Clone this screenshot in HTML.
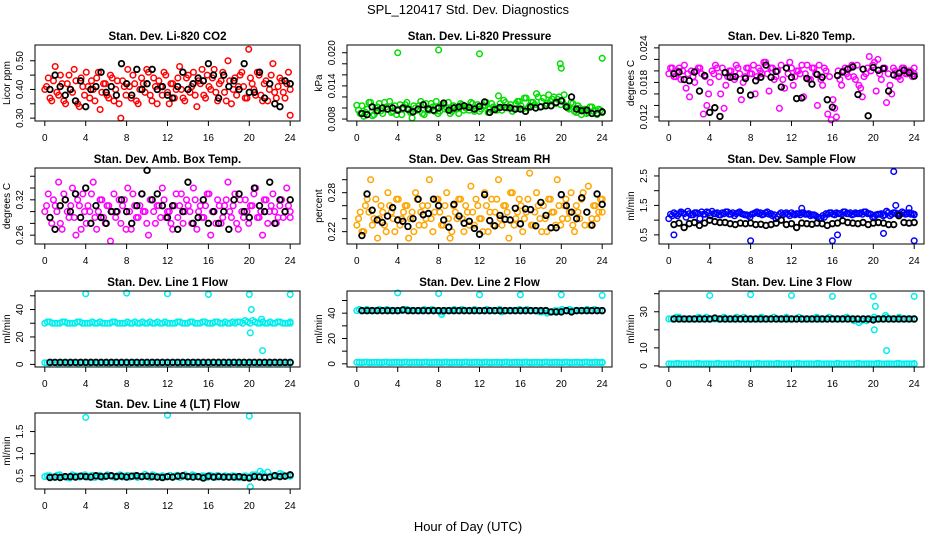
<!DOCTYPE html>
<html><head><meta charset="utf-8">
<style>
html,body{margin:0;padding:0;background:#fff;}
svg{display:block;font-family:"Liberation Sans",Arial,sans-serif;}
</style></head>
<body>
<svg id="chart" width="936" height="540" viewBox="0 0 936 540" xmlns="http://www.w3.org/2000/svg">
<text x="468" y="14" text-anchor="middle" font-size="13">SPL_120417  Std. Dev. Diagnostics</text>
<text x="468" y="531" text-anchor="middle" font-size="13">Hour of Day (UTC)</text>
</svg>
<script>
// ---------- data arrays (colored series evenly spaced over 0-24h, second arrays interleaved; black series 0.5-24h) ----------
var xTicks = [0,4,8,12,16,20,24];
var co2Red = [0.40,0.44,0.36,0.48,0.38,0.42,0.35,0.45,0.39,0.43,0.34,0.41,0.46,0.37,0.40,0.44,0.33,0.42,0.38,0.45,0.36,0.43,0.30,0.41,0.47,0.37,0.42,0.35,0.44,0.39,0.46,0.36,0.41,0.43,0.38,0.45,0.35,0.42,0.40,0.48,0.37,0.44,0.39,0.46,0.34,0.42,0.38,0.45,0.40,0.47,0.36,0.43,0.39,0.50,0.35,0.44,0.41,0.46,0.37,0.54,0.42,0.38,0.45,0.36,0.43,0.40,0.49,0.37,0.44,0.39,0.42,0.31];
var co2Red2 = [0.41,0.37,0.43,0.39,0.45,0.36,0.42,0.40,0.47,0.35,0.44,0.38,0.41,0.43,0.36,0.46,0.39,0.42,0.37,0.44,0.40,0.35,0.43,0.38,0.41,0.45,0.36,0.40,0.42,0.47,0.38,0.44,0.35,0.41,0.46,0.39,0.42,0.37,0.44,0.40,0.36,0.45,0.41,0.38,0.43,0.47,0.37,0.41,0.44,0.39,0.42,0.46,0.36,0.43,0.40,0.38,0.45,0.41,0.37,0.44,0.40,0.46,0.38,0.42,0.36,0.45,0.39,0.41,0.43,0.37,0.46,0.40];
var co2Black = [0.40,0.45,0.41,0.38,0.40,0.36,0.43,0.34,0.40,0.41,0.46,0.39,0.41,0.38,0.49,0.42,0.38,0.47,0.40,0.42,0.47,0.40,0.41,0.38,0.37,0.41,0.46,0.40,0.42,0.44,0.43,0.49,0.45,0.37,0.45,0.41,0.43,0.40,0.49,0.39,0.39,0.46,0.37,0.42,0.35,0.34,0.43,0.42];
var presGreen = [0.0105,0.0090,0.0085,0.0098,0.0110,0.0088,0.0102,0.0095,0.0110,0.0098,0.0092,0.0104,0.0098,0.0088,0.0106,0.0096,0.0082,0.0100,0.0104,0.0090,0.0108,0.0096,0.0102,0.0112,0.0094,0.0106,0.0100,0.0090,0.0104,0.0098,0.0108,0.0096,0.0102,0.0110,0.0094,0.0106,0.0098,0.0104,0.0092,0.0108,0.0100,0.0122,0.0096,0.0110,0.0102,0.0094,0.0108,0.0112,0.0098,0.0118,0.0104,0.0110,0.0126,0.0102,0.0118,0.0108,0.0112,0.0120,0.0116,0.0106,0.0124,0.0100,0.0110,0.0094,0.0104,0.0088,0.0098,0.0092,0.0102,0.0096,0.0098,0.0092];
var presGreen2 = [0.0096,0.0104,0.0092,0.0110,0.0086,0.0100,0.0108,0.0090,0.0102,0.0112,0.0094,0.0088,0.0106,0.0098,0.0110,0.0092,0.0104,0.0096,0.0112,0.0088,0.0100,0.0108,0.0094,0.0090,0.0104,0.0098,0.0110,0.0094,0.0102,0.0090,0.0106,0.0100,0.0096,0.0108,0.0100,0.0094,0.0104,0.0110,0.0098,0.0102,0.0096,0.0108,0.0114,0.0100,0.0106,0.0098,0.0112,0.0104,0.0118,0.0100,0.0110,0.0106,0.0120,0.0112,0.0104,0.0124,0.0116,0.0108,0.0120,0.0112,0.0104,0.0098,0.0108,0.0092,0.0100,0.0096,0.0090,0.0102,0.0094,0.0088,0.0096,0.0092];
var presOut = [[4,0.0200],[8,0.0205],[12,0.0198],[19.9,0.0180],[20,0.0172],[24,0.0190]];
var presBlack = [0.0090,0.0088,0.0102,0.0095,0.0100,0.0098,0.0100,0.0096,0.0100,0.0098,0.0093,0.0098,0.0106,0.0098,0.0096,0.0100,0.0109,0.0096,0.0100,0.0102,0.0104,0.0101,0.0098,0.0103,0.0111,0.0092,0.0097,0.0101,0.0101,0.0100,0.0098,0.0098,0.0094,0.0102,0.0100,0.0102,0.0104,0.0104,0.0110,0.0113,0.0102,0.0120,0.0098,0.0095,0.0096,0.0090,0.0090,0.0093];
var tempMag = [0.0195,0.0205,0.019,0.0205,0.020,0.017,0.0155,0.019,0.020,0.0205,0.0125,0.014,0.018,0.0195,0.0205,0.016,0.0135,0.019,0.020,0.0185,0.0205,0.015,0.019,0.0205,0.0195,0.016,0.0205,0.0195,0.0215,0.0165,0.0205,0.019,0.0135,0.0185,0.0205,0.0215,0.0175,0.020,0.0195,0.0155,0.021,0.0185,0.0205,0.014,0.0185,0.0205,0.0125,0.0115,0.0135,0.020,0.0175,0.0205,0.019,0.021,0.0185,0.0175,0.0155,0.0195,0.0225,0.021,0.0165,0.0195,0.0205,0.0145,0.0175,0.0205,0.019,0.0185,0.0205,0.0195,0.020,0.0195];
var tempMag2 = [0.0205,0.0190,0.0200,0.0185,0.0210,0.0195,0.0200,0.0180,0.0205,0.0195,0.0190,0.0160,0.0200,0.0210,0.0190,0.0205,0.0175,0.0200,0.0190,0.0210,0.0195,0.0180,0.0205,0.0195,0.0210,0.0190,0.0200,0.0215,0.0195,0.0205,0.0185,0.0200,0.0210,0.0170,0.0195,0.0205,0.0190,0.0200,0.0210,0.0195,0.0185,0.0205,0.0195,0.0210,0.0175,0.0200,0.0190,0.0150,0.0120,0.0185,0.0200,0.0195,0.0205,0.0190,0.0210,0.0170,0.0190,0.0205,0.0200,0.0215,0.0220,0.0185,0.0205,0.0195,0.0160,0.0200,0.0190,0.0205,0.0195,0.0200,0.0190,0.0205];
var tempBlack = [0.0195,0.0198,0.0185,0.0183,0.0198,0.0165,0.0192,0.0128,0.0136,0.0121,0.0197,0.0189,0.019,0.0166,0.0187,0.0158,0.0183,0.0189,0.0210,0.0189,0.0199,0.0172,0.0205,0.0189,0.0152,0.0153,0.0187,0.0177,0.0194,0.0189,0.0150,0.0137,0.0192,0.0198,0.0203,0.0207,0.0159,0.0203,0.0122,0.0206,0.0201,0.0204,0.0165,0.0193,0.0196,0.0201,0.0197,0.0191];
var ambMag = [0.30,0.33,0.28,0.31,0.35,0.27,0.32,0.29,0.34,0.26,0.31,0.33,0.28,0.30,0.35,0.27,0.32,0.29,0.31,0.25,0.33,0.30,0.28,0.32,0.34,0.27,0.31,0.29,0.33,0.30,0.26,0.32,0.28,0.31,0.34,0.29,0.30,0.27,0.33,0.31,0.28,0.32,0.30,0.34,0.27,0.31,0.29,0.33,0.26,0.30,0.32,0.28,0.31,0.35,0.29,0.33,0.27,0.30,0.32,0.28,0.31,0.34,0.29,0.26,0.32,0.30,0.33,0.28,0.31,0.29,0.34,0.30];
var ambMag2 = [0.31,0.29,0.32,0.30,0.28,0.33,0.30,0.31,0.29,0.32,0.27,0.30,0.31,0.33,0.29,0.30,0.32,0.28,0.31,0.30,0.29,0.32,0.31,0.27,0.30,0.33,0.29,0.31,0.30,0.28,0.32,0.30,0.31,0.29,0.32,0.30,0.28,0.31,0.29,0.33,0.30,0.31,0.28,0.32,0.30,0.29,0.31,0.33,0.30,0.28,0.31,0.29,0.32,0.30,0.31,0.28,0.32,0.29,0.30,0.31,0.33,0.29,0.30,0.32,0.28,0.31,0.30,0.29,0.32,0.30,0.31,0.29];
var ambBlack = [0.29,0.27,0.31,0.32,0.30,0.33,0.29,0.34,0.28,0.31,0.29,0.28,0.30,0.30,0.32,0.30,0.28,0.31,0.33,0.37,0.32,0.33,0.31,0.29,0.31,0.27,0.30,0.35,0.28,0.29,0.32,0.28,0.30,0.28,0.30,0.27,0.32,0.33,0.30,0.29,0.34,0.31,0.30,0.35,0.28,0.32,0.30,0.32];
var rhOrange = [0.23,0.25,0.22,0.27,0.30,0.24,0.21,0.26,0.23,0.28,0.25,0.22,0.27,0.24,0.26,0.21,0.25,0.28,0.23,0.26,0.24,0.30,0.22,0.27,0.25,0.23,0.28,0.21,0.26,0.24,0.27,0.22,0.25,0.29,0.23,0.26,0.24,0.28,0.22,0.27,0.25,0.30,0.23,0.26,0.21,0.28,0.24,0.27,0.22,0.25,0.31,0.23,0.28,0.24,0.26,0.22,0.27,0.25,0.30,0.23,0.26,0.24,0.28,0.22,0.25,0.27,0.23,0.29,0.24,0.26,0.25,0.27];
var rhOrange2 = [0.24,0.22,0.26,0.25,0.23,0.27,0.24,0.25,0.22,0.26,0.24,0.27,0.23,0.25,0.26,0.24,0.22,0.27,0.25,0.23,0.26,0.24,0.25,0.27,0.23,0.26,0.24,0.22,0.25,0.27,0.24,0.26,0.23,0.25,0.27,0.24,0.22,0.26,0.25,0.23,0.27,0.24,0.26,0.25,0.28,0.23,0.25,0.26,0.24,0.27,0.23,0.25,0.26,0.22,0.24,0.27,0.25,0.23,0.26,0.24,0.27,0.25,0.23,0.26,0.24,0.28,0.25,0.23,0.26,0.24,0.27,0.25];
var rhBlack = [0.214,0.278,0.253,0.238,0.234,0.244,0.257,0.238,0.236,0.228,0.240,0.270,0.246,0.248,0.270,0.260,0.238,0.227,0.262,0.244,0.233,0.236,0.225,0.216,0.277,0.237,0.229,0.245,0.239,0.238,0.256,0.232,0.255,0.254,0.229,0.265,0.245,0.226,0.226,0.277,0.260,0.250,0.240,0.272,0.250,0.230,0.278,0.262];
var flowBlue = [1.05,1.15,1.20,1.22,1.25,1.10,1.22,1.18,1.25,1.05,1.20,1.28,1.15,1.22,1.25,1.18,1.22,1.28,1.20,1.15,1.25,1.22,1.18,1.15,1.20,1.25,1.22,1.18,1.25,1.20,1.15,1.05,1.20,1.18,1.25,1.15,1.20,1.22,1.18,1.25,1.20,1.15,1.18,1.10,1.08,1.10,1.20,1.25,1.18,1.22,1.20,1.28,1.22,1.18,1.25,1.22,1.20,1.28,1.22,1.10,1.18,1.20,1.15,1.30,1.15,1.25,1.20,1.20,1.25,1.22,1.20,1.18];
var flowBlue2 = [1.20,1.25,1.15,1.28,1.22,1.30,1.18,1.25,1.22,1.28,1.20,1.25,1.30,1.22,1.18,1.25,1.28,1.20,1.25,1.22,1.28,1.20,1.18,1.10,1.22,1.28,1.25,1.20,1.28,1.22,1.18,1.12,1.25,1.22,1.20,1.25,1.18,1.22,1.25,1.20,1.22,1.18,1.15,1.05,1.15,1.22,1.25,1.20,1.25,1.22,1.28,1.22,1.25,1.20,1.22,1.25,1.28,1.22,1.20,1.12,1.20,1.22,1.18,1.25,1.20,1.25,1.22,1.28,1.20,1.25,1.22,1.20];
var flowOut = [[0.5,0.5],[8,0.3],[13,1.4],[16,0.3],[16.5,0.5],[21,0.55],[21.3,1.3],[22,2.65],[22.2,1.5],[23.5,1.4],[24,0.3]];
var flowBlack = [0.85,0.90,0.75,0.88,0.92,0.82,0.90,1.00,0.95,0.92,0.92,0.88,0.85,0.90,0.88,0.90,0.85,0.86,0.82,0.85,0.90,1.00,0.85,0.88,0.75,0.90,0.88,0.86,0.90,0.88,0.82,0.88,0.90,0.98,0.92,0.90,0.88,0.92,0.85,0.90,0.92,0.90,0.85,0.85,1.15,0.92,0.90,0.92];
var line1Cyan = [30,31,30,30,31,30,30,31,30,30,30,31,30,30,31,30,30,30,31,30,30,31,30,30,31,30,30,31,30,31,30,30,31,30,31,30,31,30,30,31,32,30,31,30,30,31,30,31,30,30];
var line1Cyan2 = [31,30,30,31,30,30,31,30,30,31,30,30,30,31,30,30,31,30,30,31,30,30,31,30,30,30,31,30,30,31,30,31,30,30,31,30,30,31,31,30,31,32,30,31,30,30,31,30,30,31];
var line1Out = [[4,51.5],[8,52],[12,51.5],[16,51],[20,51],[20.2,40],[20.1,23],[21.2,33],[21.3,10],[24,51]];
var line1Black = [1.5,1.5,1.5,1.5,1.5,1.5,1.5,1.5,1.5,1.5,1.5,1.5,1.5,1.5,1.5,1.5,1.5,1.5,1.5,1.5,1.5,1.5,1.5,1.5,1.5,1.5,1.5,1.5,1.5,1.5,1.5,1.5,1.5,1.5,1.5,1.5,1.5,1.5,1.5,1.5,1.5,1.5,1.5,1.5,1.5,1.5,1.5,1.5];
var line2Cyan = [42,42,43,42,42,42,43,42,42,42,43,42,42,42,42,43,42,41,42,42,42,43,42,42,42,42,43,42,42,41,42,42,42,42,43,42,42,41,40,41,42,43,42,42,42,42,43,42,42,42];
var line2Cyan2 = [43,42,42,42,43,42,42,42,42,43,42,42,42,43,42,42,42,42,42,43,42,42,42,43,42,42,42,42,43,42,42,42,43,42,42,42,41,42,41,42,42,42,43,42,42,42,42,43,42,42];
var line2Out = [[4,56],[8,55.5],[8.3,39],[12,54.5],[16,54.5],[20,54.5],[24,54]];
var line2Black = [42,42,42,42,42,42,42,42,42.5,42,42,42,42,42,42,42,42,42,42,42,42,42,42,42,42,42,42,42,42,42,42,42,42,42,42,42,42,41,41,41,42,41,42,42,42,42,42,42];
var line3Cyan = [26,26,27,26,26,26,27,26,26,26,26,27,26,26,26,27,26,26,26,26,26,27,26,26,26,26,27,26,26,26,26,26,27,26,26,26,26,25,24,26,26,27,26,26,26,26,27,26,26,26];
var line3Cyan2 = [26,27,26,26,26,26,26,27,26,26,26,26,26,27,26,26,26,26,27,26,26,26,26,27,26,26,26,26,26,27,26,26,26,26,26,27,26,26,25,25,26,26,26,27,26,26,26,26,26,26];
var line3Out = [[4,39],[8,39.5],[12,39],[16,38.5],[20,38.5],[20.2,33],[20.1,20],[21.2,28],[21.3,8.5],[24,38.5]];
var line3Black = [26,26,26,26,26,26,26,26,26.5,26,26,26,26,26,26,26,26,26,26,26,26,26,26,26,26,26,26,26,26,26,26,26,26,26,26,26,26,26,26,25.5,26,26,26,26,26,26,26,26];
var lowCyan = [1.2,1.0,1.3,1.1,1.2,1.0,1.3,1.1,1.2,1.0,1.3,1.1,1.2,1.0,1.3,1.1,1.2,1.0,1.3,1.1,1.2,1.0,1.3,1.1,1.2,1.0,1.3,1.1,1.2,1.0,1.3,1.1,1.2,1.0,1.3,1.1,1.2,1.0,1.3,1.1,1.2,1.0,1.3,1.1,1.2,1.0,1.3,1.1,1.2,1.0];
var lowCyan2 = [1.1,1.3,1.0,1.2,1.1,1.3,1.0,1.2,1.1,1.3,1.0,1.2,1.1,1.3,1.0,1.2,1.1,1.3,1.0,1.2,1.1,1.3,1.0,1.2,1.1,1.3,1.0,1.2,1.1,1.3,1.0,1.2,1.1,1.3,1.0,1.2,1.1,1.3,1.0,1.2,1.1,1.3,1.0,1.2,1.1,1.3,1.0,1.2,1.1,1.3];
var line4Cyan = [0.48,0.50,0.46,0.52,0.48,0.45,0.50,0.47,0.52,0.49,0.46,0.51,0.48,0.50,0.46,0.52,0.49,0.47,0.51,0.48,0.53,0.46,0.50,0.48,0.47,0.51,0.49,0.46,0.52,0.48,0.50,0.47,0.49,0.51,0.46,0.48,0.50,0.47,0.49,0.46,0.50,0.48,0.52,0.60,0.49,0.47,0.51,0.55,0.49,0.52];
var line4Cyan2 = [0.50,0.47,0.51,0.48,0.46,0.52,0.49,0.50,0.47,0.51,0.48,0.46,0.52,0.49,0.50,0.47,0.51,0.48,0.46,0.50,0.49,0.52,0.47,0.50,0.48,0.46,0.51,0.49,0.47,0.52,0.48,0.50,0.46,0.49,0.51,0.47,0.48,0.50,0.46,0.48,0.47,0.52,0.50,0.55,0.58,0.50,0.48,0.52,0.50,0.49];
var line4Out = [[4,1.82],[12,1.87],[20,1.85],[20.1,0.25]];
var line4Black = [0.46,0.47,0.46,0.48,0.48,0.47,0.49,0.48,0.47,0.50,0.48,0.49,0.50,0.48,0.49,0.47,0.49,0.50,0.48,0.49,0.48,0.47,0.46,0.48,0.47,0.49,0.50,0.48,0.47,0.48,0.45,0.49,0.47,0.48,0.47,0.47,0.47,0.48,0.46,0.45,0.48,0.47,0.46,0.47,0.50,0.48,0.49,0.52];

var NS = "http://www.w3.org/2000/svg";
var svg = document.getElementById('chart');
function mk(tag, attrs, parent){ var e=document.createElementNS(NS,tag); for(var k in attrs) e.setAttribute(k,attrs[k]); (parent||svg).appendChild(e); return e; }

var colX=[35,347,659], rowY=[45,168,291,413], W=265, H=76;
var panels = [
 {name:'co2',title:'Stan. Dev. Li-820 CO2',ylab:'Licor ppm',c:0,r:0,ylo:0.29,yhi:0.555,ticks:[0.30,0.35,0.40,0.45,0.50],labs:['0.30','','0.40','','0.50'],col:'#ff0000',series:[co2Red,co2Red2],out:[],black:co2Black},
 {name:'pressure',title:'Stan. Dev. Li-820 Pressure',ylab:'kPa',c:1,r:0,ylo:0.00765,yhi:0.0214,ticks:[0.008,0.010,0.012,0.014,0.016,0.018,0.020],labs:['0.008','','','0.014','','','0.020'],col:'#00dd00',series:[presGreen,presGreen2],out:presOut,black:presBlack},
 {name:'temp',title:'Stan. Dev. Li-820 Temp.',ylab:'degrees C',c:2,r:0,ylo:0.0113,yhi:0.0245,ticks:[0.012,0.014,0.016,0.018,0.020,0.022,0.024],labs:['0.012','','','0.018','','','0.024'],col:'#ff00ff',series:[tempMag,tempMag2],out:[],black:tempBlack},
 {name:'amb-box',title:'Stan. Dev. Amb. Box Temp.',ylab:'degrees C',c:0,r:1,ylo:0.245,yhi:0.374,ticks:[0.26,0.28,0.30,0.32,0.34,0.36],labs:['0.26','','','0.32','',''],col:'#ff00ff',series:[ambMag,ambMag2],out:[],black:ambBlack},
 {name:'gas-rh',title:'Stan. Dev. Gas Stream RH',ylab:'percent',c:1,r:1,ylo:0.201,yhi:0.318,ticks:[0.22,0.24,0.26,0.28,0.30],labs:['0.22','','','0.28',''],col:'#ffa500',series:[rhOrange,rhOrange2],out:[],black:rhBlack},
 {name:'sample-flow',title:'Stan. Dev. Sample Flow',ylab:'ml/min',c:2,r:1,ylo:0.19,yhi:2.77,ticks:[0.5,1.0,1.5,2.0,2.5],labs:['0.5','','1.5','','2.5'],col:'#0000ff',series:[flowBlue,flowBlue2],out:flowOut,black:flowBlack},
 {name:'line1-flow',title:'Stan. Dev. Line 1 Flow',ylab:'ml/min',c:0,r:2,ylo:-1.9,yhi:53.5,ticks:[0,10,20,30,40,50],labs:['0','','20','','40',''],col:'#00eeee',series:[line1Cyan,line1Cyan2,lowCyan,lowCyan2],out:line1Out,black:line1Black},
 {name:'line2-flow',title:'Stan. Dev. Line 2 Flow',ylab:'ml/min',c:1,r:2,ylo:-2.5,yhi:57.5,ticks:[0,10,20,30,40,50],labs:['0','','20','','40',''],col:'#00eeee',series:[line2Cyan,line2Cyan2,lowCyan,lowCyan2],out:line2Out,black:line2Black},
 {name:'line3-flow',title:'Stan. Dev. Line 3 Flow',ylab:'ml/min',c:2,r:2,ylo:-0.6,yhi:41.5,ticks:[0,10,20,30,40],labs:['0','10','','30',''],col:'#00eeee',series:[line3Cyan,line3Cyan2,lowCyan,lowCyan2],out:line3Out,black:line3Black},
 {name:'line4-flow',title:'Stan. Dev. Line 4 (LT) Flow',ylab:'ml/min',c:0,r:3,ylo:0.2,yhi:1.92,ticks:[0.5,1.0,1.5],labs:['0.5','1.0','1.5'],col:'#00eeee',series:[line4Cyan,line4Cyan2],out:line4Out,black:line4Black}
];

panels.forEach(function(p){
  var x0=colX[p.c], y0=rowY[p.r];
  var g=mk('g',{});
  
  
  function sx(h){ return x0 + (h+0.96)/25.92*W; }
  function sy(v){ return y0+H - (v-p.ylo)/(p.yhi-p.ylo)*H; }
  p.series.forEach(function(arr,si){
    var n=arr.length, step=24/(n-1), off=(si%2)?step/2:0;
    arr.forEach(function(v,i){
      var h=Math.min(24,i*step+off);
      var c=mk('circle',{cx:sx(h),cy:sy(v),r:2.8,fill:'none',stroke:p.col,'stroke-width':1.5},g);
      
      
    });
  });
  p.out.forEach(function(o){
    var c=mk('circle',{cx:sx(o[0]),cy:sy(o[1]),r:2.8,fill:'none',stroke:p.col,'stroke-width':1.5},g);
    
    
  });
  var nb=p.black.length;
  p.black.forEach(function(v,i){
    var c=mk('circle',{cx:sx(0.5+i*23.5/(nb-1)),cy:sy(v),r:2.8,fill:'none',stroke:'#000','stroke-width':1.8},g);
    
    
  });
  var b=mk('rect',{x:x0,y:y0,width:W,height:H,fill:'none',stroke:'#000','stroke-width':1},g);
  
  
  mk('line',{x1:sx(0),x2:sx(24),y1:y0+H,y2:y0+H,stroke:'#000'},g);
  xTicks.forEach(function(t){
    mk('line',{x1:sx(t),x2:sx(t),y1:y0+H,y2:y0+H+5,stroke:'#000'},g);
    var tx=mk('text',{x:sx(t),y:y0+H+20,'text-anchor':'middle','font-size':10},g);
    tx.textContent=t;
    
    
  });
  mk('line',{x1:x0,x2:x0,y1:sy(p.ticks[0]),y2:sy(p.ticks[p.ticks.length-1]),stroke:'#000'},g);
  p.ticks.forEach(function(t,i){
    var yy=sy(t);
    mk('line',{x1:x0-5,x2:x0,y1:yy,y2:yy,stroke:'#000'},g);
    if(p.labs[i]){
      var tx=mk('text',{x:x0-12,y:yy,'text-anchor':'middle','font-size':10,transform:'rotate(-90 '+(x0-12)+' '+yy+')'},g);
      tx.textContent=p.labs[i];
      
      
    }
  });
  var yl=mk('text',{x:x0-25,y:y0+H/2,'text-anchor':'middle','font-size':10,transform:'rotate(-90 '+(x0-25)+' '+(y0+H/2)+')'},g);
  yl.textContent=p.ylab;
  
  
  var tt=mk('text',{x:x0+W/2,y:y0-5,'text-anchor':'middle','font-size':11.5,'font-weight':'bold'},g);
  tt.textContent=p.title;
  
  
});
</script>
</body></html>
